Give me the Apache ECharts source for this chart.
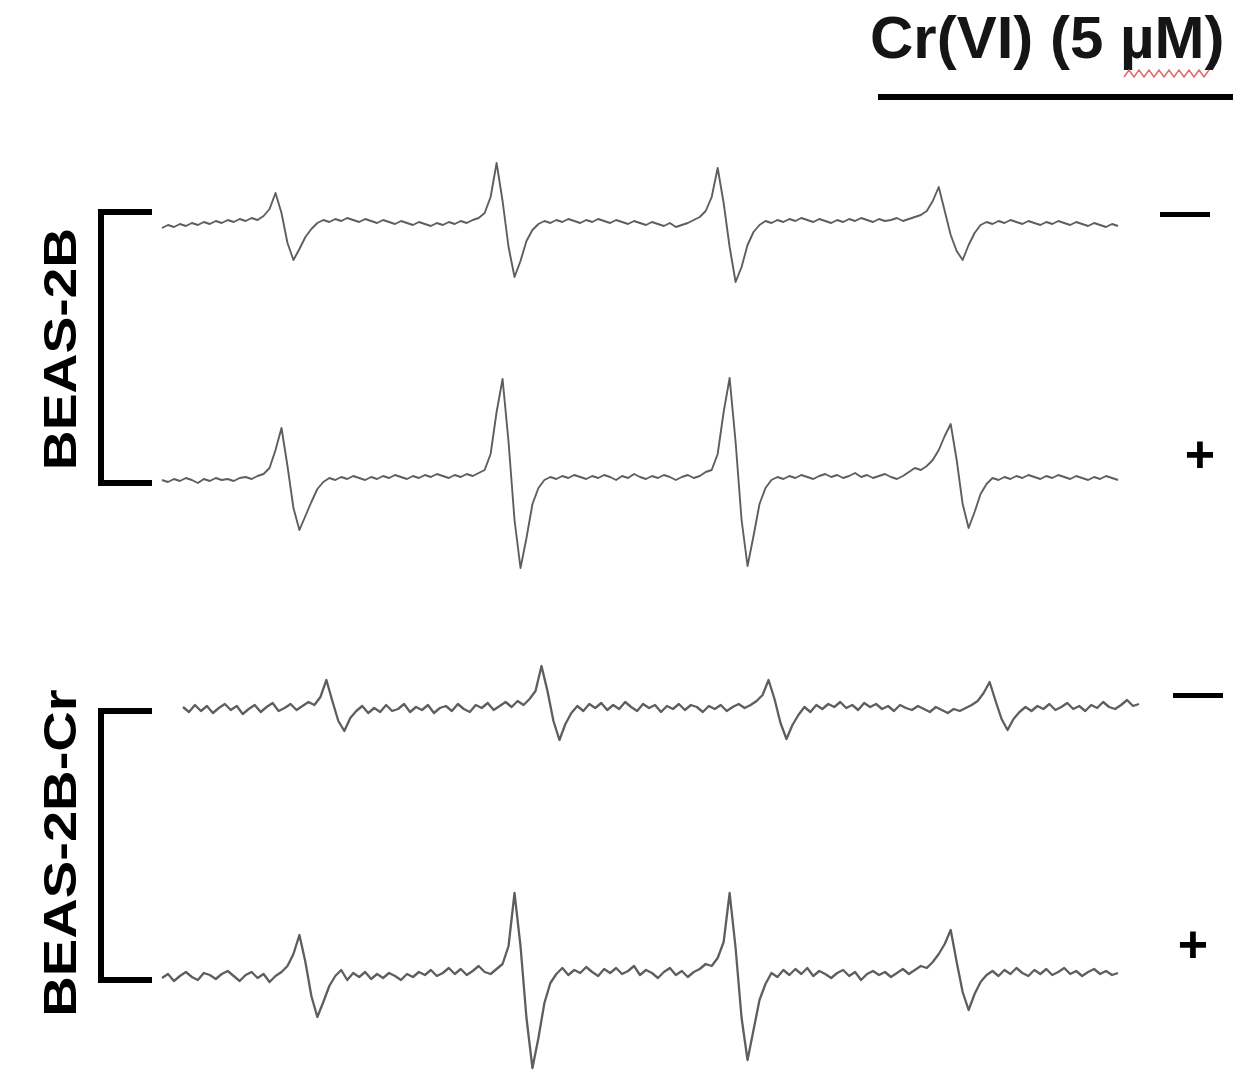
<!DOCTYPE html>
<html>
<head>
<meta charset="utf-8">
<script src="https://cdn.jsdelivr.net/npm/echarts@6/dist/echarts.min.js"></script>
<style>
  html, body { margin: 0; padding: 0; background: #fff; }
  #esr { width: 1233px; height: 1084px; }
</style>
</head>
<body>
<div id="esr"></div>
<script>
// ESR spectra (DMPO adduct quartet), intensity in arbitrary units, 161 field points each
const traceNames = ['BEAS-2B -', 'BEAS-2B +', 'BEAS-2B-Cr -', 'BEAS-2B-Cr +'];
const treatLabels = ['\u2014', '+', '\u2014', '+'];

const beasMinus = [
  -3, 0, -2, 1, -1, 2, 0, 3, 1, 4,
  2, 5, 3, 6, 4, 7, 5, 9, 16, 32,
  12, -18, -35, -24, -12, -4, 2, 5, 3, 6,
  4, 7, 5, 3, 6, 4, 2, 5, 3, 1,
  4, 2, 0, 3, 1, -1, 2, 0, 3, 1,
  4, 2, 5, 7, 12, 28, 62, 24, -22, -52,
  -36, -16, -5, 1, 4, 2, 5, 3, 6, 4,
  2, 5, 3, 6, 4, 2, 5, 3, 1, 4,
  2, 0, 3, 1, -1, 2, -2, 0, 2, 5,
  8, 14, 28, 57, 22, -22, -57, -42, -20, -7,
  0, 4, 2, 5, 3, 6, 4, 7, 5, 3,
  6, 4, 2, 5, 3, 6, 4, 7, 5, 3,
  6, 4, 5, 7, 4, 6, 8, 10, 14, 24,
  38, 14, -10, -26, -35, -20, -8, 0, 3, 1,
  4, 2, 5, 3, 1, 4, 2, 0, 3, 1,
  4, 2, 0, 3, 1, -1, 2, 0, -2, 1,
  -1
];

const beasPlus = [
  0, -2, 1, -1, 2, 0, -3, 1, -1, 2,
  0, 1, -1, 2, 3, 1, 4, 6, 12, 30,
  52, 14, -28, -50, -36, -22, -9, -2, 2, 0,
  3, 1, 4, 2, 0, 3, 1, 4, 2, 5,
  3, 1, 4, 2, 5, 3, 6, 4, 2, 5,
  3, 6, 4, 7, 10, 26, 68, 101, 38, -40,
  -88, -58, -24, -8, 0, 3, 1, 4, 2, 5,
  3, 1, 4, 2, 5, 3, 0, 4, 2, 6,
  3, 1, 4, 2, 5, 3, 0, 3, 5, 2,
  4, 8, 10, 26, 68, 102, 38, -40, -86, -56,
  -24, -8, 0, 3, 1, 4, 2, 5, 3, 1,
  4, 6, 3, 5, 2, 4, 7, 3, 5, 2,
  4, 6, 3, 1, 4, 8, 12, 10, 14, 20,
  30, 44, 56, 20, -24, -48, -32, -14, -4, 2,
  0, 3, 1, 4, 2, 5, 3, 1, 4, 2,
  5, 3, 1, 4, 2, 0, 3, 1, 4, 2,
  0
];

const crMinus = [
  2, -3, 4, -2, 3, -4, 1, 5, -1, 3,
  -5, 0, 4, -3, 2, 6, -2, 1, 5, -1,
  3, 7, 4, 12, 29, 8, -12, -22, -9, -2,
  3, -4, 1, -3, 4, -2, 0, 5, -3, 2,
  -1, 4, -4, 1, 3, -2, 5, 0, -3, 4,
  1, 6, -1, 3, 7, 2, 8, 4, 10, 18,
  43, 18, -12, -31, -15, -4, 3, -2, 5, 1,
  6, -1, 4, 0, 7, 2, -2, 5, 1, 4,
  -3, 3, 0, 5, -1, 4, 2, -3, 3, 0,
  4, -2, 2, 5, 1, 4, 8, 14, 29, 10,
  -14, -30, -16, -6, 2, -3, 4, 0, 5, 2,
  7, 1, 4, -1, 6, 2, 5, 0, 3, -2,
  4, 1, -1, 3, 0, -3, 2, -1, -4, 0,
  -2, 1, 4, 8, 16, 27, 8, -10, -21, -10,
  -3, 2, -2, 3, 0, 5, -1, 2, 6, 0,
  3, -2, 4, 1, 7, 2, 0, 4, 9, 3,
  5
];

const crPlus = [
  0, 4, -3, 2, 6, 1, -2, 5, 3, -1,
  4, 7, 2, -3, 3, 6, 0, 4, -4, 2,
  6, 12, 24, 43, 16, -18, -39, -24, -8, 2,
  8, -2, 5, 1, 6, -1, 4, 0, 5, 2,
  -2, 4, 1, 6, 3, 8, 2, 5, 10, 4,
  9, 3, 7, 12, 6, 4, 9, 14, 32, 85,
  32, -40, -90, -60, -25, -5, 4, 10, 3, 8,
  5, 11, 6, 2, 9, 5, 10, 4, 7, 12,
  3, 8, 5, 0, 6, 10, 3, 7, 1, 6,
  9, 14, 12, 20, 36, 85, 30, -40, -82, -52,
  -22, -6, 5, 1, 8, 3, 9, 4, 10, 2,
  7, 4, 0, 5, 8, 2, 6, -2, 4, 7,
  3, 6, 1, 5, 9, 4, 8, 12, 10, 16,
  24, 34, 48, 16, -14, -32, -16, -4, 3, 7,
  2, 8, 4, 10, 5, 2, 8, 4, 9, 3,
  6, 10, 4, 7, 2, 6, 9, 4, 7, 3,
  5
];

const traces = [beasMinus, beasPlus, crMinus, crPlus];

// panel placement: [left, top, height]
const panels = [
  [162, 125, 200],
  [162, 360, 240],
  [183, 609, 200],
  [162, 878, 200]
];
const lineWidths = [1.9, 1.9, 2.3, 2.3];
const labelY = [214, 458, 695, 948];

const fieldPts = beasMinus.map(function (v, i) { return i; });
const FONT = '"Liberation Sans", Arial, sans-serif';

let grids = [], xAxes = [], yAxes = [], series = [];
panels.forEach(function (p, i) {
  grids.push({ left: p[0], top: p[1], width: 956, height: p[2] });
  xAxes.push({ type: 'category', gridIndex: i, data: fieldPts, boundaryGap: false, show: false });
  yAxes.push({ type: 'value', gridIndex: i, min: -p[2] / 2, max: p[2] / 2, show: false });
  series.push({
    name: traceNames[i],
    type: 'line',
    xAxisIndex: i,
    yAxisIndex: i,
    data: traces[i],
    showSymbol: false,
    smooth: false,
    lineStyle: { color: '#5e5e5e', width: lineWidths[i], join: 'round' }
  });
});

// wavy spell-check underline under µM
let wavy = [];
for (let x = 1124, k = 0; x <= 1212; x += 5, k++) {
  wavy.push([x, k % 2 ? 70 : 77]);
}

let graphics = [
  { type: 'text', x: 870, y: 41,
    style: { text: 'Cr(VI) (5 \u00b5M)', font: 'bold 60px ' + FONT, fill: '#151515', verticalAlign: 'middle' } },
  { type: 'polyline', shape: { points: wavy }, style: { stroke: '#e06a6a', lineWidth: 1.5, fill: null } },
  { type: 'rect', shape: { x: 878, y: 94, width: 360, height: 6 }, style: { fill: '#000' } },
  { type: 'polyline', shape: { points: [[152, 212], [101, 212], [101, 483], [152, 483]] },
    style: { stroke: '#000', lineWidth: 6, fill: null } },
  { type: 'polyline', shape: { points: [[152, 711], [101, 711], [101, 980], [152, 980]] },
    style: { stroke: '#000', lineWidth: 6, fill: null } },
  { type: 'text', x: 63, y: 349, rotation: Math.PI / 2, scaleX: 1.2,
    style: { text: 'BEAS-2B', font: 'bold 46px ' + FONT, fill: '#000', align: 'center', verticalAlign: 'middle' } },
  { type: 'text', x: 63, y: 853, rotation: Math.PI / 2, scaleX: 1.22,
    style: { text: 'BEAS-2B-Cr', font: 'bold 46px ' + FONT, fill: '#000', align: 'center', verticalAlign: 'middle' } }
];

treatLabels.forEach(function (t, i) {
  const plus = t === '+';
  graphics.push({
    type: 'text',
    x: plus ? (i === 1 ? 1200 : 1193) : (i === 0 ? 1185 : 1198),
    y: labelY[i],
    style: { text: t, font: 'bold ' + (plus ? 52 : 50) + 'px ' + FONT, fill: '#000', align: 'center', verticalAlign: 'middle' }
  });
});

const chart = echarts.init(document.getElementById('esr'));
chart.setOption({
  animation: false,
  backgroundColor: '#fff',
  grid: grids,
  xAxis: xAxes,
  yAxis: yAxes,
  series: series,
  graphic: graphics
});
</script>
</body>
</html>
